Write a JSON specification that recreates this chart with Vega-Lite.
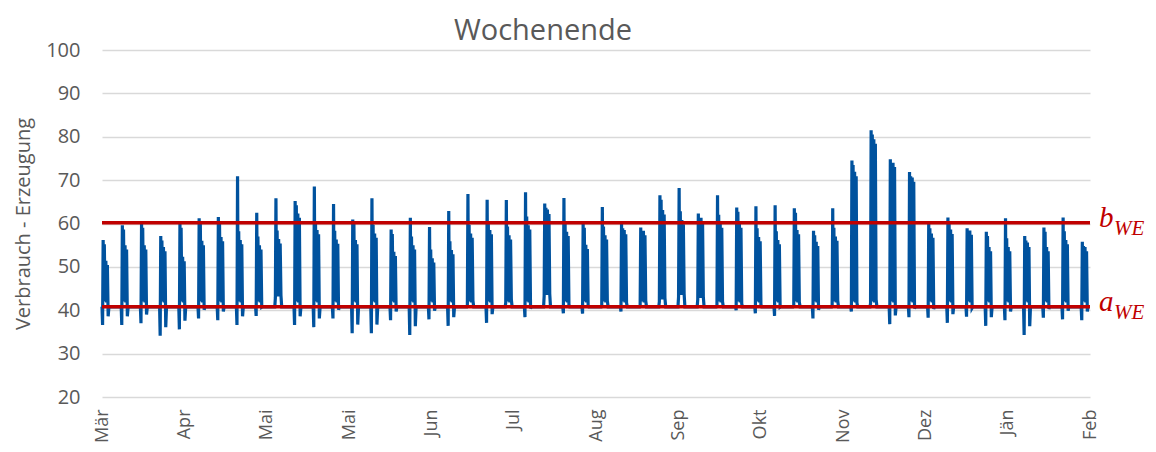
{
"$schema": "https://vega.github.io/schema/vega-lite/v6.json",
"width": 988, "height": 347,
"autosize": "none",
"padding": {"left": 102, "top": 50, "right": 66, "bottom": 55},
"background": "white",
"config": {"view": {"stroke": null}, "font": "Open Sans"},
"title": {"text": "Wochenende", "fontSize": 29, "font": "Open Sans", "fontWeight": "normal", "color": "#595959", "anchor": "middle", "frame": "group", "dx": -53, "offset": -6},
"layer": [
{"data": {"values": [
{"x":0,"v":40.8},{"x":0.03,"v":36.6},{"x":0.06,"v":56.2},{"x":0.09,"v":42},{"x":0.12,"v":55.2},{"x":0.16,"v":42},{"x":0.2,"v":51.4},{"x":0.24,"v":41.8},{"x":0.28,"v":50.4},{"x":0.32,"v":38.6},{"x":0.36,"v":40.8},
{"x":1,"v":40.8},{"x":1.03,"v":36.6},{"x":1.06,"v":59.6},{"x":1.09,"v":42},{"x":1.12,"v":58.6},{"x":1.16,"v":42},{"x":1.2,"v":55},{"x":1.24,"v":41.8},{"x":1.28,"v":54},{"x":1.32,"v":38.6},{"x":1.36,"v":40.8},
{"x":2,"v":40.8},{"x":2.03,"v":37},{"x":2.06,"v":60},{"x":2.09,"v":42},{"x":2.12,"v":59},{"x":2.16,"v":42},{"x":2.2,"v":55},{"x":2.24,"v":41.8},{"x":2.28,"v":54},{"x":2.32,"v":39},{"x":2.36,"v":40.8},
{"x":3,"v":40.8},{"x":3.03,"v":34.1},{"x":3.06,"v":57.1},{"x":3.09,"v":42},{"x":3.12,"v":56.1},{"x":3.16,"v":42},{"x":3.2,"v":54.6},{"x":3.24,"v":41.8},{"x":3.28,"v":53.6},{"x":3.32,"v":36.1},{"x":3.36,"v":40.8},
{"x":4,"v":40.8},{"x":4.03,"v":35.6},{"x":4.06,"v":60},{"x":4.09,"v":42},{"x":4.12,"v":59},{"x":4.16,"v":42},{"x":4.2,"v":52.3},{"x":4.24,"v":41.8},{"x":4.28,"v":51.3},{"x":4.32,"v":37.6},{"x":4.36,"v":40.8},
{"x":5,"v":40.8},{"x":5.03,"v":38.1},{"x":5.06,"v":61.2},{"x":5.09,"v":42},{"x":5.12,"v":60.2},{"x":5.16,"v":42},{"x":5.2,"v":56},{"x":5.24,"v":41.8},{"x":5.28,"v":55},{"x":5.32,"v":40.1},{"x":5.36,"v":40.8},
{"x":6,"v":40.8},{"x":6.03,"v":37.7},{"x":6.06,"v":61.5},{"x":6.09,"v":42},{"x":6.12,"v":60.5},{"x":6.16,"v":42},{"x":6.2,"v":56.9},{"x":6.24,"v":41.8},{"x":6.28,"v":55.9},{"x":6.32,"v":39.7},{"x":6.36,"v":40.8},
{"x":7,"v":40.8},{"x":7.03,"v":36.6},{"x":7.06,"v":70.9},{"x":7.09,"v":42},{"x":7.12,"v":58.2},{"x":7.16,"v":42},{"x":7.2,"v":56.2},{"x":7.24,"v":41.8},{"x":7.28,"v":55.2},{"x":7.32,"v":38.6},{"x":7.36,"v":40.8},
{"x":8,"v":40.8},{"x":8.03,"v":38.7},{"x":8.06,"v":62.5},{"x":8.09,"v":42},{"x":8.12,"v":57},{"x":8.16,"v":42},{"x":8.2,"v":55},{"x":8.24,"v":41.8},{"x":8.28,"v":54},{"x":8.32,"v":40.7},{"x":8.36,"v":40.8},
{"x":9,"v":40.8},{"x":9.03,"v":42.9},{"x":9.06,"v":65.8},{"x":9.09,"v":43.5},{"x":9.12,"v":58.4},{"x":9.16,"v":43.2},{"x":9.2,"v":56.4},{"x":9.24,"v":43.2},{"x":9.28,"v":55.4},{"x":9.32,"v":43.5},{"x":9.36,"v":40.8},
{"x":10,"v":40.8},{"x":10.03,"v":36.6},{"x":10.06,"v":65.2},{"x":10.09,"v":42},{"x":10.12,"v":64.2},{"x":10.16,"v":42},{"x":10.2,"v":62.3},{"x":10.24,"v":41.8},{"x":10.28,"v":61.3},{"x":10.32,"v":38.6},{"x":10.36,"v":40.8},
{"x":11,"v":40.8},{"x":11.03,"v":36.1},{"x":11.06,"v":68.5},{"x":11.09,"v":42},{"x":11.12,"v":60.5},{"x":11.16,"v":42},{"x":11.2,"v":58.5},{"x":11.24,"v":41.8},{"x":11.28,"v":57.5},{"x":11.32,"v":38.1},{"x":11.36,"v":40.8},
{"x":12,"v":40.8},{"x":12.03,"v":38.1},{"x":12.06,"v":64.5},{"x":12.09,"v":42},{"x":12.12,"v":58.3},{"x":12.16,"v":42},{"x":12.2,"v":56.3},{"x":12.24,"v":41.8},{"x":12.28,"v":55.3},{"x":12.32,"v":40.1},{"x":12.36,"v":40.8},
{"x":13,"v":40.8},{"x":13.03,"v":34.7},{"x":13.06,"v":60.9},{"x":13.09,"v":42},{"x":13.12,"v":59.9},{"x":13.16,"v":42},{"x":13.2,"v":56.2},{"x":13.24,"v":41.8},{"x":13.28,"v":55.2},{"x":13.32,"v":36.7},{"x":13.36,"v":40.8},
{"x":14,"v":40.8},{"x":14.03,"v":34.7},{"x":14.06,"v":65.8},{"x":14.09,"v":42},{"x":14.12,"v":59.7},{"x":14.16,"v":42},{"x":14.2,"v":57.7},{"x":14.24,"v":41.8},{"x":14.28,"v":56.7},{"x":14.32,"v":36.7},{"x":14.36,"v":40.8},
{"x":15,"v":40.8},{"x":15.03,"v":37.7},{"x":15.06,"v":58.6},{"x":15.09,"v":42},{"x":15.12,"v":57.6},{"x":15.16,"v":42},{"x":15.2,"v":53.5},{"x":15.24,"v":41.8},{"x":15.28,"v":52.5},{"x":15.32,"v":39.7},{"x":15.36,"v":40.8},
{"x":16,"v":40.8},{"x":16.03,"v":34.3},{"x":16.06,"v":61.3},{"x":16.09,"v":42},{"x":16.12,"v":57},{"x":16.16,"v":42},{"x":16.2,"v":55},{"x":16.24,"v":41.8},{"x":16.28,"v":54},{"x":16.32,"v":36.3},{"x":16.36,"v":40.8},
{"x":17,"v":40.8},{"x":17.03,"v":37.9},{"x":17.06,"v":59.2},{"x":17.09,"v":42},{"x":17.12,"v":54},{"x":17.16,"v":42},{"x":17.2,"v":52},{"x":17.24,"v":41.8},{"x":17.28,"v":51},{"x":17.32,"v":39.9},{"x":17.36,"v":40.8},
{"x":18,"v":40.8},{"x":18.03,"v":36.4},{"x":18.06,"v":62.9},{"x":18.09,"v":42},{"x":18.12,"v":55.9},{"x":18.16,"v":42},{"x":18.2,"v":53.9},{"x":18.24,"v":41.8},{"x":18.28,"v":52.9},{"x":18.32,"v":38.4},{"x":18.36,"v":40.8},
{"x":19,"v":40.8},{"x":19.03,"v":41.2},{"x":19.06,"v":66.8},{"x":19.09,"v":42},{"x":19.12,"v":59.7},{"x":19.16,"v":42},{"x":19.2,"v":57.7},{"x":19.24,"v":41.8},{"x":19.28,"v":56.7},{"x":19.32,"v":42.2},{"x":19.36,"v":40.8},
{"x":20,"v":40.8},{"x":20.03,"v":37.1},{"x":20.06,"v":65.5},{"x":20.09,"v":42},{"x":20.12,"v":60.5},{"x":20.16,"v":42},{"x":20.2,"v":58.5},{"x":20.24,"v":41.8},{"x":20.28,"v":57.5},{"x":20.32,"v":39.1},{"x":20.36,"v":40.8},
{"x":21,"v":40.8},{"x":21.03,"v":41.8},{"x":21.06,"v":65.4},{"x":21.09,"v":42},{"x":21.12,"v":59.3},{"x":21.16,"v":42},{"x":21.2,"v":57.3},{"x":21.24,"v":41.8},{"x":21.28,"v":56.3},{"x":21.32,"v":42.5},{"x":21.36,"v":40.8},
{"x":22,"v":40.8},{"x":22.03,"v":38.4},{"x":22.06,"v":67.2},{"x":22.09,"v":42},{"x":22.12,"v":61.6},{"x":22.16,"v":42},{"x":22.2,"v":59.6},{"x":22.24,"v":41.8},{"x":22.28,"v":58.6},{"x":22.32,"v":40.4},{"x":22.36,"v":40.8},
{"x":23,"v":40.8},{"x":23.03,"v":43.3},{"x":23.06,"v":64.6},{"x":23.09,"v":43.8},{"x":23.12,"v":63.6},{"x":23.16,"v":43.5},{"x":23.2,"v":63.2},{"x":23.24,"v":43.5},{"x":23.28,"v":62.2},{"x":23.32,"v":43.8},{"x":23.36,"v":40.8},
{"x":24,"v":40.8},{"x":24.03,"v":39.3},{"x":24.06,"v":65.9},{"x":24.09,"v":42},{"x":24.12,"v":60.1},{"x":24.16,"v":42},{"x":24.2,"v":58.1},{"x":24.24,"v":41.8},{"x":24.28,"v":57.1},{"x":24.32,"v":41.3},{"x":24.36,"v":40.8},
{"x":25,"v":40.8},{"x":25.03,"v":39.2},{"x":25.06,"v":60},{"x":25.09,"v":42},{"x":25.12,"v":59},{"x":25.16,"v":42},{"x":25.2,"v":55.1},{"x":25.24,"v":41.8},{"x":25.28,"v":54.1},{"x":25.32,"v":41.2},{"x":25.36,"v":40.8},
{"x":26,"v":40.8},{"x":26.03,"v":41.2},{"x":26.06,"v":63.8},{"x":26.09,"v":42},{"x":26.12,"v":59.3},{"x":26.16,"v":42},{"x":26.2,"v":57.3},{"x":26.24,"v":41.8},{"x":26.28,"v":56.3},{"x":26.32,"v":42.2},{"x":26.36,"v":40.8},
{"x":27,"v":40.8},{"x":27.03,"v":39.7},{"x":27.06,"v":59.9},{"x":27.09,"v":42},{"x":27.12,"v":58.9},{"x":27.16,"v":42},{"x":27.2,"v":58.5},{"x":27.24,"v":41.8},{"x":27.28,"v":57.5},{"x":27.32,"v":41.7},{"x":27.36,"v":40.8},
{"x":28,"v":40.8},{"x":28.03,"v":41.2},{"x":28.06,"v":59.1},{"x":28.09,"v":42},{"x":28.12,"v":58.1},{"x":28.16,"v":42},{"x":28.2,"v":58.3},{"x":28.24,"v":41.8},{"x":28.28,"v":57.3},{"x":28.32,"v":42.2},{"x":28.36,"v":40.8},
{"x":29,"v":40.8},{"x":29.03,"v":42},{"x":29.06,"v":66.5},{"x":29.09,"v":42.8},{"x":29.12,"v":65.5},{"x":29.16,"v":42.5},{"x":29.2,"v":63.1},{"x":29.24,"v":42.5},{"x":29.28,"v":62.1},{"x":29.32,"v":42.8},{"x":29.36,"v":40.8},
{"x":30,"v":40.8},{"x":30.03,"v":43.1},{"x":30.06,"v":68.2},{"x":30.09,"v":43.8},{"x":30.12,"v":62.8},{"x":30.16,"v":43.5},{"x":30.2,"v":60.8},{"x":30.24,"v":43.5},{"x":30.28,"v":59.8},{"x":30.32,"v":43.8},{"x":30.36,"v":40.8},
{"x":31,"v":40.8},{"x":31.03,"v":42.5},{"x":31.06,"v":62.3},{"x":31.09,"v":43},{"x":31.12,"v":61.3},{"x":31.16,"v":42.8},{"x":31.2,"v":61.3},{"x":31.24,"v":42.8},{"x":31.28,"v":60.3},{"x":31.32,"v":43},{"x":31.36,"v":40.8},
{"x":32,"v":40.8},{"x":32.03,"v":41},{"x":32.06,"v":66.5},{"x":32.09,"v":42},{"x":32.12,"v":62},{"x":32.16,"v":42},{"x":32.2,"v":60},{"x":32.24,"v":41.8},{"x":32.28,"v":59},{"x":32.32,"v":42},{"x":32.36,"v":40.8},
{"x":33,"v":40.8},{"x":33.03,"v":40},{"x":33.06,"v":63.7},{"x":33.09,"v":42},{"x":33.12,"v":62.7},{"x":33.16,"v":42},{"x":33.2,"v":60},{"x":33.24,"v":41.8},{"x":33.28,"v":59},{"x":33.32,"v":41.5},{"x":33.36,"v":40.8},
{"x":34,"v":40.8},{"x":34.03,"v":39.3},{"x":34.06,"v":64},{"x":34.09,"v":42},{"x":34.12,"v":58.9},{"x":34.16,"v":42},{"x":34.2,"v":56.9},{"x":34.24,"v":41.8},{"x":34.28,"v":55.9},{"x":34.32,"v":41.3},{"x":34.36,"v":40.8},
{"x":35,"v":40.8},{"x":35.03,"v":38.7},{"x":35.06,"v":64.2},{"x":35.09,"v":42},{"x":35.12,"v":58.2},{"x":35.16,"v":42},{"x":35.2,"v":56.2},{"x":35.24,"v":41.8},{"x":35.28,"v":55.2},{"x":35.32,"v":40.7},{"x":35.36,"v":40.8},
{"x":36,"v":40.8},{"x":36.03,"v":40.9},{"x":36.06,"v":63.5},{"x":36.09,"v":42},{"x":36.12,"v":62.5},{"x":36.16,"v":42},{"x":36.2,"v":58.5},{"x":36.24,"v":41.8},{"x":36.28,"v":57.5},{"x":36.32,"v":41.9},{"x":36.36,"v":40.8},
{"x":37,"v":40.8},{"x":37.03,"v":38.1},{"x":37.06,"v":58.3},{"x":37.09,"v":42},{"x":37.12,"v":57.3},{"x":37.16,"v":42},{"x":37.2,"v":55.8},{"x":37.24,"v":41.8},{"x":37.28,"v":54.8},{"x":37.32,"v":40.1},{"x":37.36,"v":40.8},
{"x":38,"v":40.8},{"x":38.03,"v":41.2},{"x":38.06,"v":63.5},{"x":38.09,"v":42},{"x":38.12,"v":59},{"x":38.16,"v":42},{"x":38.2,"v":57},{"x":38.24,"v":41.8},{"x":38.28,"v":56},{"x":38.32,"v":42.2},{"x":38.36,"v":40.8},
{"x":39,"v":40.8},{"x":39.03,"v":39.7},{"x":39.06,"v":74.5},{"x":39.09,"v":42},{"x":39.12,"v":73.5},{"x":39.16,"v":42},{"x":39.2,"v":71.9},{"x":39.24,"v":41.8},{"x":39.28,"v":70.9},{"x":39.32,"v":41.7},{"x":39.36,"v":40.8},
{"x":40,"v":40.8},{"x":40.03,"v":41.6},{"x":40.06,"v":81.5},{"x":40.09,"v":42},{"x":40.12,"v":80.5},{"x":40.16,"v":42},{"x":40.2,"v":79.4},{"x":40.24,"v":41.8},{"x":40.28,"v":78.4},{"x":40.32,"v":42.5},{"x":40.36,"v":40.8},
{"x":41,"v":40.8},{"x":41.03,"v":36.8},{"x":41.06,"v":74.8},{"x":41.09,"v":42},{"x":41.12,"v":73.8},{"x":41.16,"v":42},{"x":41.2,"v":74},{"x":41.24,"v":41.8},{"x":41.28,"v":73},{"x":41.32,"v":38.8},{"x":41.36,"v":40.8},
{"x":42,"v":40.8},{"x":42.03,"v":38.4},{"x":42.06,"v":71.9},{"x":42.09,"v":42},{"x":42.12,"v":70.9},{"x":42.16,"v":42},{"x":42.2,"v":70.6},{"x":42.24,"v":41.8},{"x":42.28,"v":69.6},{"x":42.32,"v":40.4},{"x":42.36,"v":40.8},
{"x":43,"v":40.8},{"x":43.03,"v":38.3},{"x":43.06,"v":59.9},{"x":43.09,"v":42},{"x":43.12,"v":58.9},{"x":43.16,"v":42},{"x":43.2,"v":57.7},{"x":43.24,"v":41.8},{"x":43.28,"v":56.7},{"x":43.32,"v":40.3},{"x":43.36,"v":40.8},
{"x":44,"v":40.8},{"x":44.03,"v":37.1},{"x":44.06,"v":61.4},{"x":44.09,"v":42},{"x":44.12,"v":60.4},{"x":44.16,"v":42},{"x":44.2,"v":58.6},{"x":44.24,"v":41.8},{"x":44.28,"v":57.6},{"x":44.32,"v":39.1},{"x":44.36,"v":40.8},
{"x":45,"v":40.8},{"x":45.03,"v":38.5},{"x":45.06,"v":58.9},{"x":45.09,"v":42},{"x":45.12,"v":57.9},{"x":45.16,"v":42},{"x":45.2,"v":58.4},{"x":45.24,"v":41.8},{"x":45.28,"v":57.4},{"x":45.32,"v":40.5},{"x":45.36,"v":40.8},
{"x":46,"v":40.8},{"x":46.03,"v":36.4},{"x":46.06,"v":58.1},{"x":46.09,"v":42},{"x":46.12,"v":57.1},{"x":46.16,"v":42},{"x":46.2,"v":54.6},{"x":46.24,"v":41.8},{"x":46.28,"v":53.6},{"x":46.32,"v":38.4},{"x":46.36,"v":40.8},
{"x":47,"v":40.8},{"x":47.03,"v":37.7},{"x":47.06,"v":61.2},{"x":47.09,"v":42},{"x":47.12,"v":56.6},{"x":47.16,"v":42},{"x":47.2,"v":54.6},{"x":47.24,"v":41.8},{"x":47.28,"v":53.6},{"x":47.32,"v":39.7},{"x":47.36,"v":40.8},
{"x":48,"v":40.8},{"x":48.03,"v":34.3},{"x":48.06,"v":57.1},{"x":48.09,"v":42},{"x":48.12,"v":56.1},{"x":48.16,"v":42},{"x":48.2,"v":55.6},{"x":48.24,"v":41.8},{"x":48.28,"v":54.6},{"x":48.32,"v":36.3},{"x":48.36,"v":40.8},
{"x":49,"v":40.8},{"x":49.03,"v":38.3},{"x":49.06,"v":59.1},{"x":49.09,"v":42},{"x":49.12,"v":58.1},{"x":49.16,"v":42},{"x":49.2,"v":54.6},{"x":49.24,"v":41.8},{"x":49.28,"v":53.6},{"x":49.32,"v":40.3},{"x":49.36,"v":40.8},
{"x":50,"v":40.8},{"x":50.03,"v":37.9},{"x":50.06,"v":61.4},{"x":50.09,"v":42},{"x":50.12,"v":58.2},{"x":50.16,"v":42},{"x":50.2,"v":56.2},{"x":50.24,"v":41.8},{"x":50.28,"v":55.2},{"x":50.32,"v":39.9},{"x":50.36,"v":40.8},
{"x":51,"v":40.8},{"x":51.03,"v":37.7},{"x":51.06,"v":55.8},{"x":51.09,"v":42},{"x":51.12,"v":54.8},{"x":51.16,"v":42},{"x":51.2,"v":54.6},{"x":51.24,"v":41.8},{"x":51.28,"v":53.6},{"x":51.32,"v":39.7},{"x":51.36,"v":40.8}
]},
"mark": {"type": "line", "color": "#00529e", "strokeWidth": 3.2},
"encoding": {
"x": {"field": "x", "type": "quantitative", "title": null,
 "scale": {"domain": [0, 51.46], "nice": false, "zero": false},
 "axis": {"values": [0,4.2883,8.5767,12.865,17.1533,21.4417,25.73,30.0183,34.3067,38.595,42.8833,47.1717,51.46],
  "labelExpr": "['Mär','Apr','Mai','Mai','Jun','Jul','Aug','Sep','Okt','Nov','Dez','Jän','Feb'][round(datum.value/4.2883)]",
  "labelAngle": -90, "labelAlign": "right", "labelBaseline": "middle", "labelFontSize": 18, "labelFont": "Open Sans",
  "labelColor": "#595959", "labelPadding": 12, "ticks": false, "domain": false, "grid": false, "title": null,
  "labelOverlap": false, "labelBound": false, "labelFlush": false}},
"y": {"field": "v", "type": "quantitative", "title": "Verbrauch - Erzeugung",
 "scale": {"domain": [20, 100], "nice": false, "zero": false},
 "axis": {"values": [20,30,40,50,60,70,80,90,100], "labelFontSize": 20, "labelFont": "Open Sans", "labelColor": "#595959",
  "labelPadding": 22, "ticks": false, "tickSize": 0, "domain": false, "grid": true, "gridColor": "#d9d9d9", "gridWidth": 1.3,
  "titleFontSize": 20, "titleFont": "Open Sans", "titleFontWeight": "normal", "titleColor": "#595959", "titlePadding": 12}}
}},
{"data": {"values": [{"y": 60.2}, {"y": 40.8}]},
 "mark": {"type": "rule", "color": "#c00000", "strokeWidth": 3.5},
 "encoding": {"y": {"field": "y", "type": "quantitative", "title": "Verbrauch - Erzeugung"}}},
{"data": {"values": [{"y": 60.2, "t": "b"}, {"y": 40.8, "t": "a"}]},
 "mark": {"type": "text", "font": "Liberation Serif", "fontStyle": "italic", "fontSize": 29, "color": "#c00000", "align": "left", "baseline": "alphabetic", "dx": 9, "dy": 4},
 "encoding": {"x": {"datum": 51.46, "type": "quantitative", "title": null}, "y": {"field": "y", "type": "quantitative", "title": "Verbrauch - Erzeugung"}, "text": {"field": "t"}}},
{"data": {"values": [{"y": 60.2, "t": "WE"}, {"y": 40.8, "t": "WE"}]},
 "mark": {"type": "text", "font": "Liberation Serif", "fontStyle": "italic", "fontSize": 21, "color": "#c00000", "align": "left", "baseline": "alphabetic", "dx": 24, "dy": 12},
 "encoding": {"x": {"datum": 51.46, "type": "quantitative", "title": null}, "y": {"field": "y", "type": "quantitative", "title": "Verbrauch - Erzeugung"}, "text": {"field": "t"}}}
]
}
